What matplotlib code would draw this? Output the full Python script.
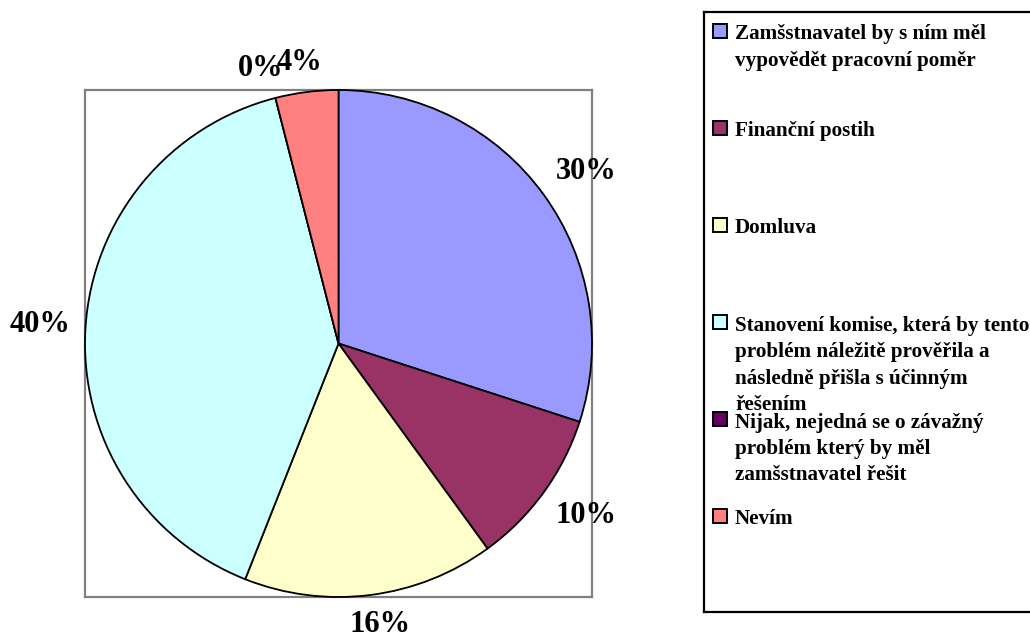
import numpy as np
import matplotlib
matplotlib.use("Agg")
import matplotlib.pyplot as plt
from matplotlib.patches import Rectangle

# Survey answers and their shares (percent)
answers = [
    "Zamšstnavatel by s ním měl\nvypovědět pracovní poměr",
    "Finanční postih",
    "Domluva",
    "Stanovení komise, která by tento\nproblém náležitě prověřila a\nnásledně přišla s účinným\nřešením",
    "Nijak, nejedná se o závažný\nproblém který by měl\nzamšstnavatel řešit",
    "Nevím",
]
shares = [30, 10, 16, 40, 0, 4]
colors = ["#9999FF", "#993366", "#FFFFCC", "#CCFFFF", "#660066", "#FF8080"]

plt.rcParams["font.family"] = ["Liberation Serif", "DejaVu Serif"]
plt.rcParams["font.weight"] = "bold"

W, H = 1030, 638
fig = plt.figure(figsize=(W / 100, H / 100), dpi=100)

# pie area, framed by a grey box
ax = fig.add_axes([85 / W, (H - 599) / H, 507 / W, 511 / H])
wedges, _ = ax.pie(shares, colors=colors, startangle=90, counterclock=False,
                   radius=1.0, wedgeprops=dict(edgecolor="black", linewidth=1.3))
ax.set_xlim(-1, 1)
ax.set_ylim(-1, 1)
ax.set_frame_on(True)
ax.set_xticks([])
ax.set_yticks([])
for sp in ax.spines.values():
    sp.set_color("#808080")
    sp.set_linewidth(1.6)
    sp.set_zorder(0)

# percentage labels: box corner just outside the rim, pushed outward
labels = []
for w, v in zip(wedges, shares):
    t = ax.text(0, 0, f"{v}%", ha="center", va="center", fontsize=22,
                fontweight="bold", clip_on=False, zorder=5)
    labels.append((w, t))

fig.canvas.draw()
ax_bb = ax.get_window_extent()
px_x = 2.0 / ax_bb.width
px_y = 2.0 / ax_bb.height
for w, t in labels:
    mid = np.deg2rad((w.theta1 + w.theta2) / 2)
    c, s = np.cos(mid), np.sin(mid)
    bb = t.get_window_extent()
    hw = bb.width / 2 * px_x
    hh = bb.height / 2 * px_y
    x = 1.06 * c + hw * np.clip(2 * c, -1, 1)
    y = 1.06 * s + hh * np.clip(2 * s, -1, 1)
    t.set_position((x, y))

# legend box, using pixel-like coordinates
lg = fig.add_axes([704 / W, (H - 612) / H, 330 / W, 600 / H])
lg.set_xlim(704, 1034)
lg.set_ylim(612, 12)
lg.set_xticks([])
lg.set_yticks([])
for sp in lg.spines.values():
    sp.set_color("black")
    sp.set_linewidth(1.6)

line_step = 26.7
for i, (lab, c) in enumerate(zip(answers, colors)):
    base = 39 + i * 97
    n_extra = lab.count("\n")
    lg.add_patch(Rectangle((713, base - 15), 14, 14, facecolor=c,
                           edgecolor="black", linewidth=1.4))
    lg.text(735, base + n_extra * line_step, lab, ha="left", va="baseline",
            fontsize=15.2, fontweight="bold", linespacing=1.42)

fig.savefig("out.png", dpi=100)
